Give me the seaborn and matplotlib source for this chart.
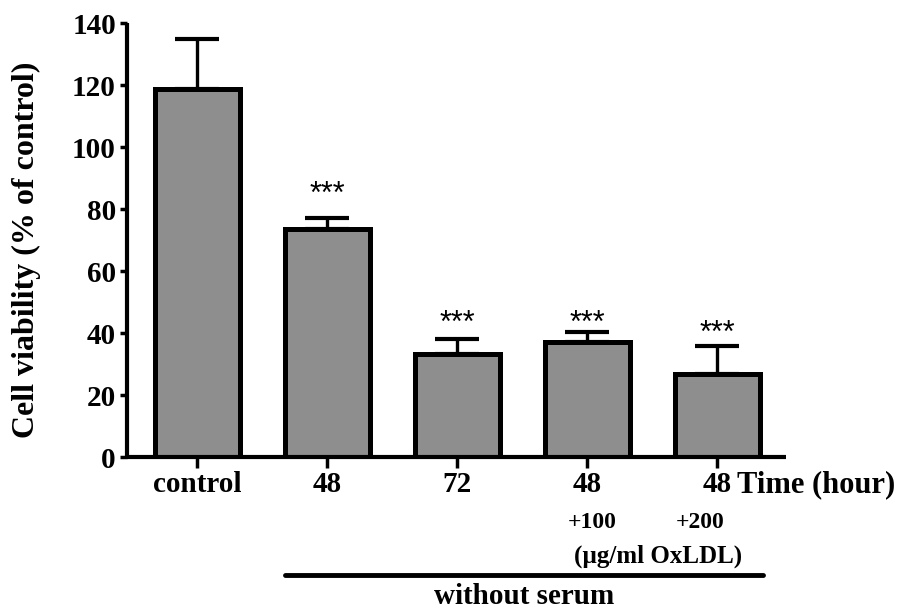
import matplotlib
matplotlib.use("Agg")
import matplotlib.pyplot as plt
import matplotlib.transforms as mtransforms
import pandas as pd
import seaborn as sns

# Cell viability per condition (mean and SD, % of control)
groups = ["control", "48 h", "72 h", "48 h + 100 OxLDL", "48 h + 200 OxLDL"]
tick_labels = ["control", "48", "72", "48", "48"]
viability = [118.7, 73.5, 33.2, 37.1, 26.8]
sd = [16.1, 3.6, 4.9, 3.2, 9.0]
significance = ["", "***", "***", "***", "***"]
star_y = [None, 87.7, 46.1, 46.1, 42.9]
yticks = [0, 20, 40, 60, 80, 100, 120, 140]

df = pd.DataFrame({"group": groups, "viability": viability, "sd": sd})

sns.set_theme(style="white")
plt.rcParams["font.family"] = ["Liberation Serif", "DejaVu Serif"]
plt.rcParams["font.weight"] = "bold"
plt.rcParams["text.color"] = "black"
plt.rcParams["axes.labelcolor"] = "black"
plt.rcParams["xtick.color"] = "black"
plt.rcParams["ytick.color"] = "black"

fig = plt.figure(figsize=(9.07, 6.09), dpi=100)
ax = fig.add_axes([127 / 907, 152 / 609, (786 - 127) / 907, (586 - 152) / 609])

sns.barplot(data=df, x="group", y="viability", order=groups, color="#8e8e8e",
            saturation=1, edgecolor="black", linewidth=3.6, width=0.66,
            errorbar=None, ax=ax, zorder=2)

# upper-only SD error bars
x = list(range(len(groups)))
ax.errorbar(x, df["viability"], yerr=[[0] * len(sd), df["sd"]], fmt="none",
            ecolor="black", elinewidth=2.4, capsize=16, capthick=3, zorder=1)

ax.set_xlim(-0.542, 4.527)
ax.set_ylim(0, 140)
ax.set_yticks(yticks)
ax.set_xticks(x)
ax.set_xticklabels(tick_labels, fontsize=21, fontweight="bold", color="black")
ax.set_yticklabels([str(t) for t in yticks], fontsize=21, fontweight="bold",
                   color="black")
ax.set_xlabel("")
ax.set_ylabel("Cell viability (% of control)", fontsize=23, fontweight="bold",
              color="black")
ax.yaxis.set_label_coords(-0.13, 0.477)

for side in ["top", "right"]:
    ax.spines[side].set_visible(False)
for side in ["left", "bottom"]:
    ax.spines[side].set_linewidth(3)
    ax.spines[side].set_color("black")
    ax.spines[side].set_capstyle("butt")

ax.tick_params(axis="y", direction="out", length=5, width=2.5, pad=3,
               colors="black", left=True)
ax.tick_params(axis="x", direction="out", length=8, width=2.5, pad=2,
               colors="black", bottom=True)

# significance stars, centred on the given heights
for xi, label, yv in zip(x, significance, star_y):
    if label:
        trans = ax.transData + mtransforms.ScaledTranslation(
            0, -0.58 * 22 / 72, fig.dpi_scale_trans)
        ax.text(xi, yv, label, transform=trans, ha="center", va="baseline",
                fontsize=22, fontweight="normal", family="Liberation Sans",
                color="black")

# annotations below the axis (data x, figure y)
bt = mtransforms.blended_transform_factory(ax.transData, fig.transFigure)
ax.text(4.15, (609 - 485) / 609, "Time (hour)", transform=bt, ha="left",
        va="center", fontsize=22, fontweight="bold", color="black")
ax.text(3.04, (609 - 522) / 609, "+100", transform=bt, ha="center",
        va="center", fontsize=17, fontweight="bold", color="black")
ax.text(3.87, (609 - 522) / 609, "+200", transform=bt, ha="center",
        va="center", fontsize=17, fontweight="bold", color="black")
ax.text(3.54, (609 - 556) / 609, "(\u00b5g/ml OxLDL)", transform=bt,
        ha="center", va="center", fontsize=18, fontweight="bold", color="black")
ax.plot([0.67, 4.35], [(609 - 575) / 609] * 2, transform=bt, color="black",
        lw=3.5, solid_capstyle="round", clip_on=False)
ax.text(2.51, (609 - 596) / 609, "without serum", transform=bt, ha="center",
        va="center", fontsize=21, fontweight="bold", color="black")

fig.savefig("out.png", dpi=100, facecolor="white")
